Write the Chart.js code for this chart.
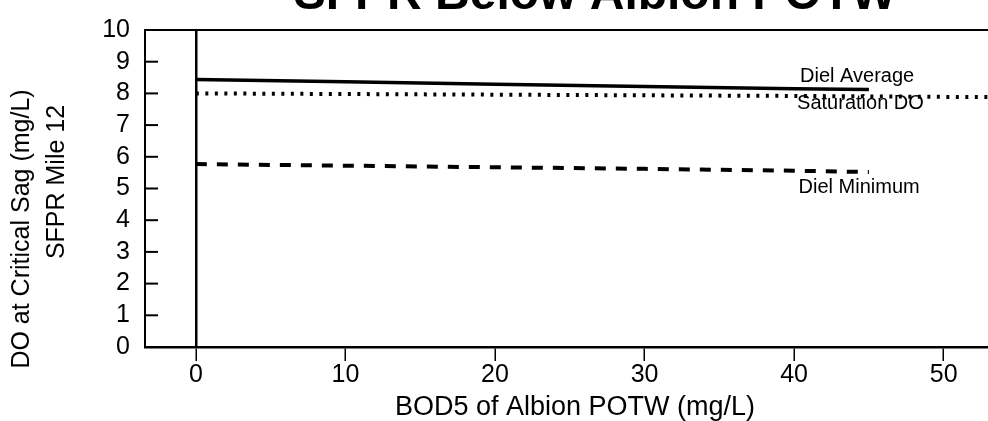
<!DOCTYPE html>
<html>
<head>
<meta charset="utf-8">
<script src="https://cdn.jsdelivr.net/npm/chart.js@4"></script>
<style>
  html, body { margin: 0; padding: 0; background: #fff; overflow: hidden; }
  #wrap { width: 1010px; height: 421px; }
</style>
</head>
<body>
<div id="wrap"><canvas id="chart" width="1010" height="421"></canvas></div>
<script>
// ── Data ──
const bod = [0, 10, 20, 30, 40, 45];
const dielAverage = [8.44, 8.37, 8.29, 8.22, 8.15, 8.12];
const dielMinimum = [5.77, 5.72, 5.67, 5.62, 5.56, 5.52];
const satBod = [0, 10, 20, 30, 40, 50, 56];
const saturationDO = [8.0, 7.98, 7.96, 7.94, 7.92, 7.89, 7.88];
const xTicks = [0, 10, 20, 30, 40, 50];
const yTicks = [0, 1, 2, 3, 4, 5, 6, 7, 8, 9, 10];

// series labels written next to the lines, in data units
const seriesNames = ['Diel Average', 'Saturation DO', 'Diel Minimum'];
const nameX = [40.4, 40.2, 40.3];
const nameY = [8.36, 7.5, 4.85];

const chartTitle = 'SFPR Below Albion POTW';
const xTitle = 'BOD5 of Albion POTW (mg/L)';
const yTitle = ['DO at Critical Sag (mg/L)', 'SFPR Mile 12'];

const FONT = "'Liberation Sans', Arial, Helvetica, sans-serif";

const pts = (xs, ys) => xs.map((x, i) => ({ x: x, y: ys[i] }));

// ── Extra drawing: frame top, inward y ticks, titles, line names ──
const decorations = {
    id: 'decorations',
    afterDraw(chart) {
        const { ctx, chartArea: a, scales } = chart;
        ctx.save();
        ctx.strokeStyle = '#000';
        ctx.fillStyle = '#000';

        // top frame line
        ctx.lineWidth = 2;
        ctx.beginPath();
        ctx.moveTo(a.left, a.top);
        ctx.lineTo(a.right, a.top);
        ctx.stroke();

        // y ticks point inward
        yTicks.forEach(v => {
            const py = scales.y.getPixelForValue(v);
            ctx.beginPath();
            ctx.moveTo(a.left, py);
            ctx.lineTo(a.left + 13, py);
            ctx.stroke();
        });

        // chart title, cut off by the top of the page
        ctx.font = 'bold 48px ' + FONT;
        ctx.textAlign = 'center';
        ctx.textBaseline = 'alphabetic';
        ctx.fillText(chartTitle, 595, 9);

        // line names
        ctx.font = '20px ' + FONT;
        ctx.textAlign = 'left';
        seriesNames.forEach((s, i) => {
            ctx.fillText(s, scales.x.getPixelForValue(nameX[i]), scales.y.getPixelForValue(nameY[i]));
        });

        // two-line y title
        ctx.font = '25px ' + FONT;
        ctx.textAlign = 'center';
        ctx.textBaseline = 'middle';
        [[22, 229], [57, 182]].forEach((p, i) => {
            ctx.save();
            ctx.translate(p[0], p[1]);
            ctx.rotate(-Math.PI / 2);
            ctx.fillText(yTitle[i], 0, 0);
            ctx.restore();
        });
        ctx.restore();
    }
};

new Chart(document.getElementById('chart'), {
    type: 'line',
    data: {
        datasets: [
            { label: 'Diel Average', data: pts(bod, dielAverage), borderColor: '#000', borderWidth: 3.5, pointRadius: 0 },
            { label: 'Saturation DO', data: pts(satBod, saturationDO), borderColor: '#000', borderWidth: 4, borderDash: [3, 6.5], pointRadius: 0 },
            { label: 'Diel Minimum', data: pts(bod, dielMinimum), borderColor: '#000', borderWidth: 4, borderDash: [11, 10], pointRadius: 0 }
        ]
    },
    options: {
        responsive: false,
        animation: false,
        layout: { padding: { top: 22, right: 5, left: 0, bottom: 0 } },
        plugins: { legend: { display: false }, tooltip: { enabled: false } },
        scales: {
            x: {
                type: 'linear', min: -3.4, max: 54.1,
                afterBuildTicks: s => { s.ticks = xTicks.map(v => ({ value: v })); },
                afterFit: s => { s.height = 74; },
                grid: {
                    color: c => (c.tick && c.tick.value === 0 ? '#000' : 'rgba(0,0,0,0)'),
                    lineWidth: 2.5, tickColor: '#000', tickWidth: 1.5, tickLength: 14
                },
                border: { display: true, color: '#000', width: 2.5 },
                ticks: { color: '#000', font: { family: FONT, size: 25 }, padding: -1, maxRotation: 0, autoSkip: false },
                title: { display: true, text: xTitle, color: '#000', font: { family: FONT, size: 27 }, padding: { top: 0, bottom: -3 } }
            },
            y: {
                min: 0, max: 10,
                afterBuildTicks: s => { s.ticks = yTicks.map(v => ({ value: v })); },
                afterFit: s => { s.width = 145; },
                grid: { display: true, drawOnChartArea: false, drawTicks: false },
                border: { display: true, color: '#000', width: 2 },
                ticks: { color: '#000', font: { family: FONT, size: 25 }, padding: 15, autoSkip: false }
            }
        }
    },
    plugins: [decorations]
});
</script>
</body>
</html>
